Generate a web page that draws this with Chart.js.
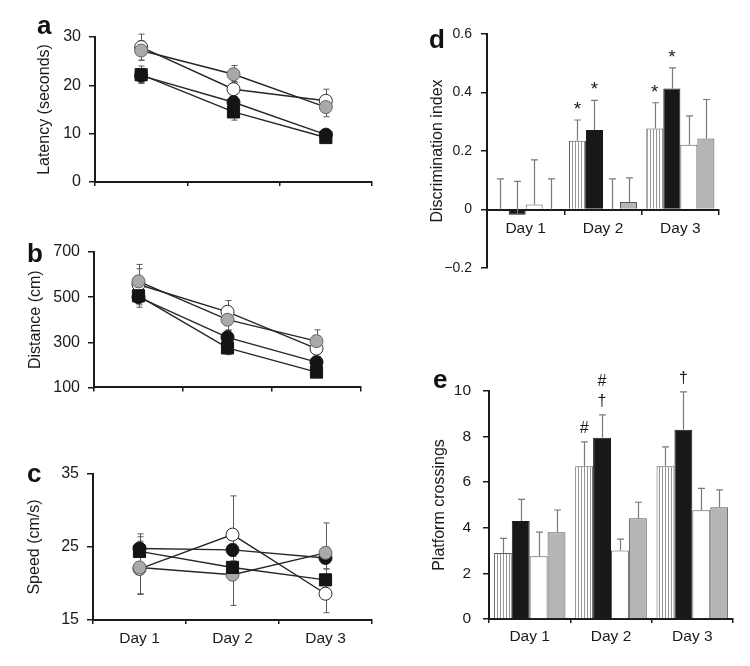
<!DOCTYPE html>
<html><head><meta charset="utf-8">
<script src="https://cdn.jsdelivr.net/npm/chart.js@4.4.0/dist/chart.umd.min.js"></script>
<style>
body{margin:0;background:#fff;}
#wrap{position:relative;width:750px;height:666px;overflow:hidden;background:#fff;}
#wrap canvas{position:absolute;}
.lab{position:absolute;font:bold 26px "Liberation Sans",Arial,sans-serif;line-height:26px;color:#111;}
</style></head><body>
<div id="wrap">
<canvas id="ca" width="380" height="200" style="left:0;top:0"></canvas>
<canvas id="cb" width="380" height="210" style="left:0;top:195px"></canvas>
<canvas id="cc" width="380" height="261" style="left:0;top:405px"></canvas>
<canvas id="cd" width="370" height="320" style="left:380px;top:0"></canvas>
<canvas id="ce" width="370" height="346" style="left:380px;top:320px"></canvas>
<div class="lab" style="left:37px;top:12px">a</div>
<div class="lab" style="left:27px;top:240px">b</div>
<div class="lab" style="left:27px;top:460px">c</div>
<div class="lab" style="left:429px;top:26px">d</div>
<div class="lab" style="left:433px;top:366px">e</div>
</div>
<script>
// ---------- data ----------
const days = ['Day 1', 'Day 2', 'Day 3'];

// a: latency (seconds)
const latWhite = [27.9, 19.2, 16.8];
const latGray = [27.2, 22.3, 15.5];
const latBlack = [22.0, 16.5, 9.8];
const latSquare = [22.2, 14.5, 9.2];
const latWhiteErr = [2.7, 1.6, 2.4];
const latGrayErr = [2.0, 1.8, 2.0];
const latBlackErr = [1.5, 1.2, 0.8];
const latSquareErr = [1.8, 1.7, 0.9];

// b: distance (cm)
const distWhite = [556, 435, 272];
const distGray = [570, 400, 305];
const distBlack = [500, 322, 212];
const distSquare = [506, 275, 168];
const distWhiteErr = [70, 50, 55];
const distGrayErr = [75, 45, 50];
const distBlackErr = [45, 30, 25];
const distSquareErr = [40, 30, 20];

// c: speed (cm/s)
const spdWhite = [22.0, 26.7, 18.6];
const spdGray = [22.2, 21.2, 24.2];
const spdBlack = [24.8, 24.6, 23.5];
const spdSquare = [24.4, 22.2, 20.5];
const spdWhiteErr = [3.5, 5.3, 2.6];
const spdGrayErr = [3.6, 4.2, 4.1];
const spdBlackErr = [2.0, 1.5, 1.5];
const spdSquareErr = [2.0, 1.5, 1.5];

// d: discrimination index
const discStriped = [0, 0.235, 0.277];
const discBlack = [-0.018, 0.272, 0.414];
const discWhite = [0.017, 0, 0.221];
const discGray = [0, 0.026, 0.243];
const discStripedErr = [0.105, 0.071, 0.088];
const discBlackErr = [0.114, 0.101, 0.07];
const discWhiteErr = [0.153, 0.105, 0.099];
const discGrayErr = [0.105, 0.082, 0.133];
const discStripedMarks = [[], ['*'], ['*']];
const discBlackMarks = [[], ['*'], ['*']];

// e: platform crossings
const crossStriped = [2.9, 6.7, 6.7];
const crossBlack = [4.3, 7.95, 8.3];
const crossWhite = [2.75, 3.0, 4.77];
const crossGray = [3.8, 4.42, 4.9];
const crossStripedErr = [0.64, 1.07, 0.85];
const crossBlackErr = [0.95, 1.0, 1.66];
const crossWhiteErr = [1.06, 0.5, 0.96];
const crossGrayErr = [0.98, 0.7, 0.76];
const crossStripedMarks = [[], ['#'], []];
const crossBlackMarks = [[], ['\u2020', '#'], ['\u2020']];

// ---------- styling ----------
Chart.defaults.font.family = '"Liberation Sans", Arial, Helvetica, sans-serif';
Chart.defaults.color = '#1a1a1a';
const INK = '#1a1a1a';

const pointStyles = {
  white: {bg: '#ffffff', bd: '#2a2a2a', style: 'circle', r: 6.5},
  gray: {bg: '#a9a9a9', bd: '#666666', style: 'circle', r: 6.5},
  black: {bg: '#141414', bd: '#141414', style: 'circle', r: 6.5},
  square: {bg: '#141414', bd: '#141414', style: 'rect', r: 8.6}
};

const lineErrPlugin = {
  id: 'lineErr',
  beforeDatasetsDraw(chart) {
    const ctx = chart.ctx, ys = chart.scales.y;
    ctx.save();
    ctx.strokeStyle = '#5a5a5a';
    ctx.lineWidth = 1;
    chart.data.datasets.forEach((ds, i) => {
      const meta = chart.getDatasetMeta(i);
      meta.data.forEach((pt, j) => {
        const v = ds.data[j], d = ds.errs[j];
        const x = Math.round(pt.x) + 0.5;
        const yt = ys.getPixelForValue(v + d), yb = ys.getPixelForValue(v - d);
        ctx.beginPath();
        ctx.moveTo(x, yt); ctx.lineTo(x, yb);
        ctx.moveTo(x - 3, yt); ctx.lineTo(x + 3, yt);
        ctx.moveTo(x - 3, yb); ctx.lineTo(x + 3, yb);
        ctx.stroke();
      });
    });
    ctx.restore();
  }
};

const barErrPlugin = {
  id: 'barErr',
  afterDatasetsDraw(chart) {
    const ctx = chart.ctx, ys = chart.scales.y;
    ctx.save();
    chart.data.datasets.forEach((ds, i) => {
      const meta = chart.getDatasetMeta(i);
      meta.data.forEach((bar, j) => {
        const v = ds.data[j], d = ds.errs[j];
        const x = Math.round(bar.x) + 0.5;
        const y0 = ys.getPixelForValue(v), yt = ys.getPixelForValue(v + d);
        ctx.strokeStyle = '#7a7a7a';
        ctx.lineWidth = 1.2;
        ctx.beginPath();
        ctx.moveTo(x, y0); ctx.lineTo(x, yt);
        ctx.moveTo(x - 3.5, yt); ctx.lineTo(x + 3.5, yt);
        ctx.stroke();
        const marks = ds.marks ? ds.marks[j] : [];
        ctx.fillStyle = INK;
        marks.forEach((m, k) => {
          ctx.font = (m === '*' ? '19px' : '16px') + ' "Liberation Sans", Arial, sans-serif';
          ctx.textAlign = 'center';
          ctx.textBaseline = 'alphabetic';
          const tm = ctx.measureText(m);
          const cy = yt - 14.5 - k * 20;
          const base = cy + (tm.actualBoundingBoxAscent - tm.actualBoundingBoxDescent) / 2;
          ctx.fillText(m, bar.x, base);
        });
      });
    });
    ctx.restore();
  }
};

function fmt(v) {
  const r = Math.round(v * 10) / 10;
  if (r === 0) return '0';
  if (Math.abs(r - Math.round(r)) < 1e-9) return String(Math.round(r));
  return (r < 0 ? '\u2212' : '') + Math.abs(r).toFixed(1);
}

function lineChart(id, series, y, box) {
  const datasets = series.map(s => {
    const st = pointStyles[s.kind];
    return {
      data: s.data, errs: s.err,
      borderColor: '#262626', borderWidth: 1.4,
      pointStyle: st.style, pointRadius: st.r,
      pointBackgroundColor: st.bg, pointBorderColor: st.bd, pointBorderWidth: 1,
      clip: false, tension: 0
    };
  });
  return new Chart(document.getElementById(id), {
    type: 'line',
    data: {labels: days, datasets},
    plugins: [lineErrPlugin],
    options: {
      responsive: false, animation: false, devicePixelRatio: 1,
      layout: {autoPadding: false, padding: {left: 0, right: box.right, top: box.top, bottom: 0}},
      plugins: {legend: {display: false}, tooltip: {enabled: false}},
      scales: {
        x: {
          type: 'category', offset: true,
          grid: {display: true, offset: true, drawOnChartArea: false, drawTicks: true, tickLength: 4, color: INK, lineWidth: 1.5},
          border: {display: true, color: INK, width: 2},
          ticks: {display: box.showX, font: {size: 15.5}, padding: 5, color: INK},
          afterFit: s => { s.height = box.xH; }
        },
        y: {
          min: y.min, max: y.max,
          ticks: {stepSize: y.step, font: {size: 16}, padding: 8, color: INK, callback: fmt},
          grid: {drawOnChartArea: false, drawTicks: true, tickLength: 6, color: INK, lineWidth: 1.5},
          border: {color: INK, width: 2},
          title: {display: true, text: y.title, font: {size: 16}, padding: {top: box.tp, bottom: 0}, color: INK},
          afterFit: s => { s.width = box.yW; }
        }
      }
    }
  });
}

// order: first dataset is drawn on top
lineChart('ca', [
  {kind: 'square', data: latSquare, err: latSquareErr},
  {kind: 'gray', data: latGray, err: latGrayErr},
  {kind: 'black', data: latBlack, err: latBlackErr},
  {kind: 'white', data: latWhite, err: latWhiteErr}
], {min: 0, max: 30, step: 10, title: 'Latency (seconds)'},
{right: 8, top: 37, xH: 18, yW: 95, tp: 35.4, showX: false});

lineChart('cb', [
  {kind: 'square', data: distSquare, err: distSquareErr},
  {kind: 'gray', data: distGray, err: distGrayErr},
  {kind: 'black', data: distBlack, err: distBlackErr},
  {kind: 'white', data: distWhite, err: distWhiteErr}
], {min: 100, max: 700, step: 200, title: 'Distance (cm)'},
{right: 19, top: 57, xH: 9, yW: 94, tp: 26.4, showX: false});

lineChart('cc', [
  {kind: 'square', data: spdSquare, err: spdSquareErr},
  {kind: 'gray', data: spdGray, err: spdGrayErr},
  {kind: 'black', data: spdBlack, err: spdBlackErr},
  {kind: 'white', data: spdWhite, err: spdWhiteErr}
], {min: 15, max: 35, step: 10, title: 'Speed (cm/s)'},
{right: 8, top: 69, xH: 46, yW: 93, tp: 25.4, showX: true});

function hatch() {
  const c = document.createElement('canvas');
  c.width = 3; c.height = 4;
  const g = c.getContext('2d');
  g.fillStyle = '#ffffff'; g.fillRect(0, 0, 3, 4);
  g.fillStyle = '#959595'; g.fillRect(0, 0, 1, 4);
  return g.createPattern(c, 'repeat');
}

function barChart(id, series, y, box) {
  const fills = {striped: hatch(), black: '#181818', white: '#ffffff', gray: '#b5b5b5'};
  const borders = {striped: '#5a5a5a', black: '#181818', white: '#5a5a5a', gray: '#5a5a5a'};
  const datasets = series.map(s => ({
    data: s.data, errs: s.err, marks: s.marks,
    backgroundColor: fills[s.kind], borderColor: borders[s.kind], borderWidth: 1,
    categoryPercentage: 0.88, barPercentage: 1
  }));
  const xScale = {
    type: 'category', offset: true,
    grid: {display: true, offset: true, drawOnChartArea: false, drawTicks: true, tickLength: 4, color: INK, lineWidth: 1.5},
    border: {display: true, color: INK, width: 2},
    ticks: {font: {size: 15.5}, padding: box.xPad, color: INK}
  };
  if (box.zeroAxis) xScale.position = {y: 0};
  else xScale.afterFit = s => { s.height = box.xH; };
  return new Chart(document.getElementById(id), {
    type: 'bar',
    data: {labels: days, datasets},
    plugins: [barErrPlugin],
    options: {
      responsive: false, animation: false, devicePixelRatio: 1,
      layout: {autoPadding: false, padding: {left: 0, right: box.right, top: box.top, bottom: box.bottom}},
      plugins: {legend: {display: false}, tooltip: {enabled: false}},
      scales: {
        x: xScale,
        y: {
          min: y.min, max: y.max,
          ticks: {stepSize: y.step, font: {size: box.yFont}, padding: box.yPad, color: INK, callback: fmt},
          grid: {drawOnChartArea: false, drawTicks: true, tickLength: 6, color: INK, lineWidth: 1.5},
          border: {color: INK, width: 2},
          title: {display: true, text: y.title, font: {size: 16}, padding: {top: box.tp, bottom: 0}, color: INK},
          afterFit: s => { s.width = box.yW; }
        }
      }
    }
  });
}

barChart('cd', [
  {kind: 'striped', data: discStriped, err: discStripedErr, marks: discStripedMarks},
  {kind: 'black', data: discBlack, err: discBlackErr, marks: discBlackMarks},
  {kind: 'white', data: discWhite, err: discWhiteErr},
  {kind: 'gray', data: discGray, err: discGrayErr}
], {min: -0.2, max: 0.6, step: 0.2, title: 'Discrimination index'},
{right: 31, top: 34, bottom: 52, yW: 107, tp: 48.4, zeroAxis: true, xPad: 6, yFont: 14, yPad: 9});

barChart('ce', [
  {kind: 'striped', data: crossStriped, err: crossStripedErr, marks: crossStripedMarks},
  {kind: 'black', data: crossBlack, err: crossBlackErr, marks: crossBlackMarks},
  {kind: 'white', data: crossWhite, err: crossWhiteErr},
  {kind: 'gray', data: crossGray, err: crossGrayErr}
], {min: 0, max: 10, step: 2, title: 'Platform crossings'},
{right: 17, top: 71, bottom: 0, xH: 47, yW: 109, tp: 50.4, zeroAxis: false, xPad: 4, yFont: 15.5, yPad: 12});
</script>
</body></html>
